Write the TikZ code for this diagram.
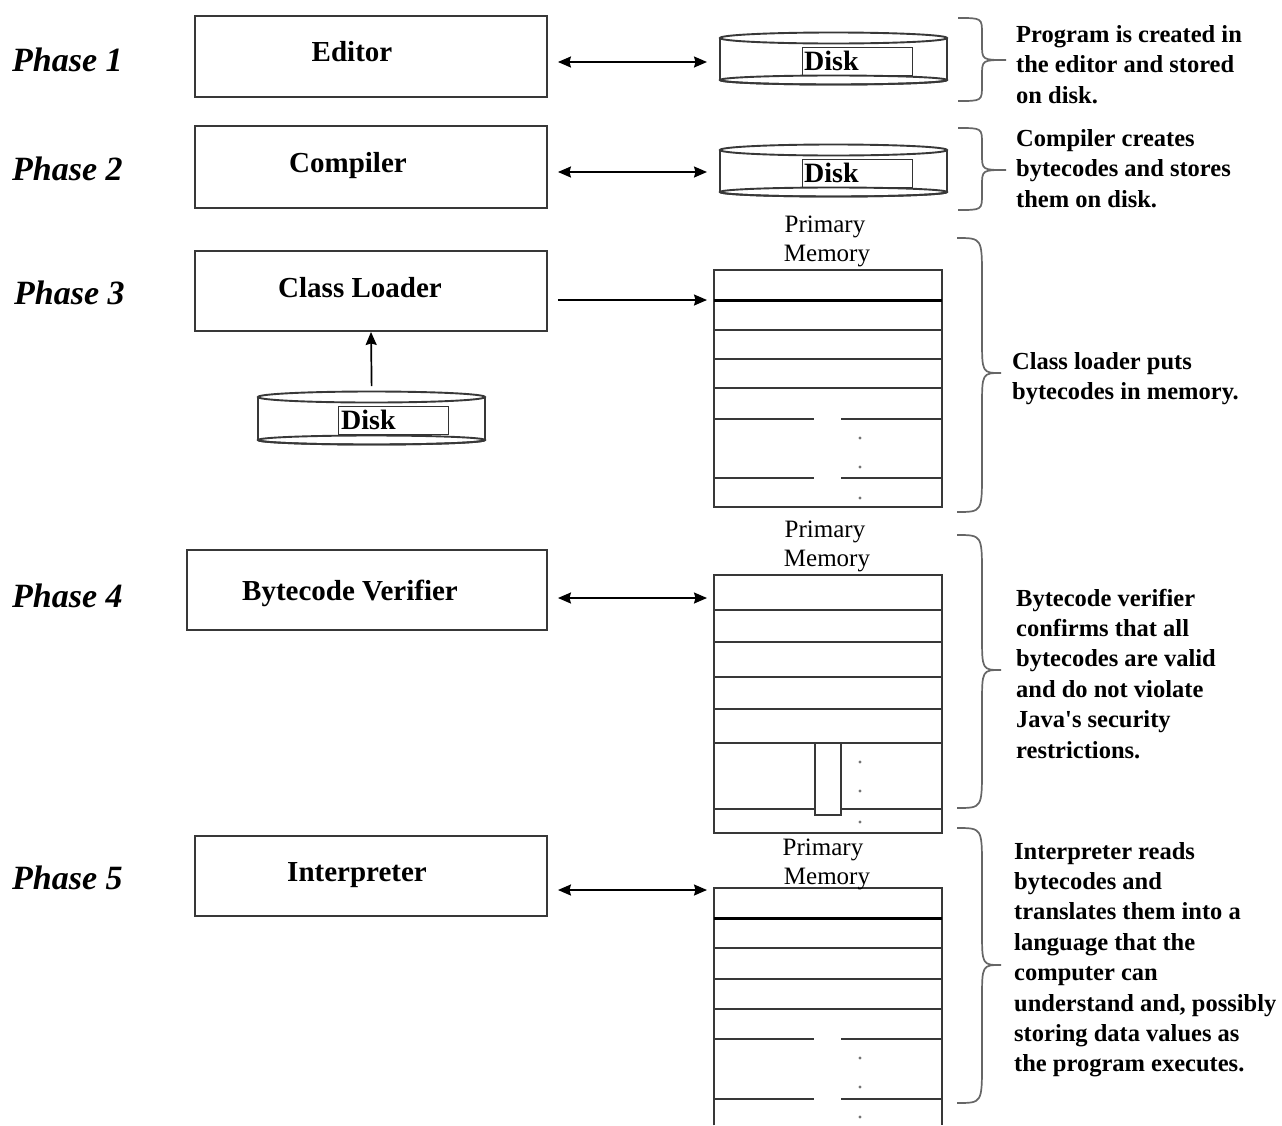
\documentclass[tikz,border=0pt]{standalone}
\usepackage{fontspec}
\setmainfont{Liberation Serif}
\usetikzlibrary{arrows.meta}
\tikzset{
  lnsty/.style={draw=black!78, line width=1.9pt},
  thicksty/.style={draw=black, line width=3pt},
  boxsty/.style={lnsty, inner sep=0pt},
  phsty/.style={font=\fontsize{34}{38}\selectfont\bfseries\itshape, anchor=base west, inner sep=0pt},
  lblsty/.style={font=\fontsize{29}{34}\selectfont\bfseries, anchor=base, inner sep=0pt},
  descsty/.style={font=\fontsize{24.5}{30}\selectfont\bfseries, anchor=base west, inner sep=0pt},
  pmsty/.style={font=\fontsize{25}{29}\selectfont, anchor=base, inner sep=0pt},
  disktxtsty/.style={font=\fontsize{28}{32}\selectfont\bfseries, anchor=base west, inner sep=0pt},
  dlboxsty/.style={draw=black!80, line width=1.4pt, anchor=north west, inner sep=0pt, minimum width=110pt, minimum height=28pt},
  diskareasty/.style={inner sep=0pt, anchor=north west, minimum width=227pt, minimum height=51pt},
  memsty/.style={inner sep=0pt, anchor=north west, minimum width=228pt},
  arrsty/.style={line width=1.7pt, draw=black, -{Stealth[length=13pt,width=11pt,inset=1.5pt]}},
  dblsty/.style={line width=1.7pt, draw=black, {Stealth[length=13pt,width=11pt,inset=1.5pt]}-{Stealth[length=13pt,width=11pt,inset=1.5pt]}},
  bracesty/.style={draw=black!60, line width=1.7pt},
  dotsty/.style={fill=black!55, circle, inner sep=0pt, minimum size=3.4pt},
}
% #1 x0, #2 xm, #3 xtip, #4 ytop, #5 ymid, #6 ybot, #7 r end, #8 r mid
\newcommand\curlyb[8]{%
  \draw[bracesty] (#1,#4) .. controls (#2,#4) .. (#2,#4+#7) -- (#2,#5-#8)
    .. controls (#2,#5) .. (#3,#5) .. controls (#2,#5) .. (#2,#5+#8)
    -- (#2,#6-#7) .. controls (#2,#6) .. (#1,#6);}
% disk cylinder: #1 xl, #2 xr, #3 yt, #4 yb
\newcommand\diskshape[4]{%
  \draw[lnsty, fill=white] (#1,#3) -- (#1,#4)
    arc[start angle=180, end angle=0, x radius={(#2-#1)/2}, y radius=4.5] -- (#2,#3);
  \draw[lnsty] ({(#1+#2)/2},#4) ellipse [x radius={(#2-#1)/2}, y radius=4.5];
  \draw[lnsty, fill=white] ({(#1+#2)/2},#3) ellipse [x radius={(#2-#1)/2}, y radius=5.5];}
\begin{document}
\begin{tikzpicture}[x=1pt,y=-1pt]
\useasboundingbox (0,0) rectangle (1282,1125);
\fill[white] (0,0) rectangle (1282,1125);

% phase labels
\node[phsty] (p1) at (12,71) {Phase 1};
\node[phsty] (p2) at (12,180) {Phase 2};
\node[phsty] (p3) at (14,304) {Phase 3};
\node[phsty] (p4) at (12,607) {Phase 4};
\node[phsty] (p5) at (12,889) {Phase 5};

% boxes
\node[boxsty, minimum width=352pt, minimum height=81pt] (editor) at (371,56.5) {};
\node[boxsty, minimum width=352pt, minimum height=82pt] (compiler) at (371,167) {};
\node[boxsty, minimum width=352pt, minimum height=80pt] (loader) at (371,291) {};
\node[boxsty, minimum width=360pt, minimum height=80pt] (verifier) at (367,590) {};
\node[boxsty, minimum width=352pt, minimum height=80pt] (interp) at (371,876) {};

\node[lblsty] (editorl) at (352,61) {Editor};
\node[lblsty] (compl) at (348,172) {Compiler};
\node[lblsty] (loadl) at (360,297) {Class Loader};
\node[lblsty] (verl) at (350,600) {Bytecode Verifier};
\node[lblsty] (intl) at (357,881) {Interpreter};

% disks
\diskshape{720}{947}{38}{80}
\node[diskareasty] (disk1) at (720,33) {};
\node[dlboxsty] (dlb1) at (802,47) {};
\node[disktxtsty] (dt1) at (804,70) {Disk};

\diskshape{720}{947}{150}{192}
\node[diskareasty] (disk2) at (720,145) {};
\node[dlboxsty] (dlb2) at (802,159) {};
\node[disktxtsty] (dt2) at (804,182) {Disk};

\diskshape{258}{485}{397}{440}
\node[diskareasty] (disk3) at (258,392) {};
\node[dlboxsty] (dlb3) at (338,406) {};
\node[disktxtsty] (dt3) at (341,429) {Disk};

% memory blocks
\node[memsty, minimum height=237pt] (mem3) at (714,270) {};
\draw[lnsty] (mem3.north west) rectangle (mem3.south east);
\draw[thicksty] (714,300) -- (942,300);
\foreach \yy in {330,359,388} \draw[lnsty] (714,\yy) -- (942,\yy);
\foreach \yy in {419,478} {\draw[lnsty] (714,\yy) -- (814,\yy); \draw[lnsty] (841,\yy) -- (942,\yy);}
\foreach \yy in {438,467,498} \node[dotsty] at (860,\yy) {};

\node[memsty, minimum height=258pt] (mem4) at (714,575) {};
\draw[lnsty] (mem4.north west) rectangle (mem4.south east);
\foreach \yy in {610,642,677,709,743} \draw[lnsty] (714,\yy) -- (942,\yy);
\draw[lnsty] (714,809) -- (815,809); \draw[lnsty] (841,809) -- (942,809);
\draw[lnsty] (815,743) rectangle (841,815);
\foreach \yy in {762,791,822} \node[dotsty] at (860,\yy) {};

\node[memsty, minimum height=237pt] (mem5) at (714,888) {};
\draw[lnsty] (mem5.south west) -- (mem5.north west) -- (mem5.north east) -- (mem5.south east);
\draw[thicksty] (714,918) -- (942,918);
\foreach \yy in {948,979,1009} \draw[lnsty] (714,\yy) -- (942,\yy);
\foreach \yy in {1039,1099} {\draw[lnsty] (714,\yy) -- (814,\yy); \draw[lnsty] (841,\yy) -- (942,\yy);}
\foreach \yy in {1058,1087,1117} \node[dotsty] at (860,\yy) {};

% primary memory labels
\node[pmsty] (pm3a) at (825,232) {Primary};
\node[pmsty] (pm3b) at (827,261) {Memory};
\node[pmsty] (pm4a) at (825,537) {Primary};
\node[pmsty] (pm4b) at (827,566) {Memory};
\node[pmsty] (pm5a) at (823,855) {Primary};
\node[pmsty] (pm5b) at (827,884) {Memory};

% arrows
\draw[dblsty, shorten <=10pt, shorten >=13pt] ([yshift=-5.5pt]editor.east) -- ([yshift=-5.5pt]editor.east -| disk1.west);
\draw[dblsty, shorten <=10pt, shorten >=13pt] ([yshift=-5pt]compiler.east) -- ([yshift=-5pt]compiler.east -| disk2.west);
\draw[arrsty, shorten <=10pt, shorten >=7pt] ([yshift=-9pt]loader.east) -- ([yshift=-9pt]loader.east -| mem3.west);
\draw[dblsty, shorten <=10pt, shorten >=7pt] ([yshift=-8pt]verifier.east) -- ([yshift=-8pt]verifier.east -| mem4.west);
\draw[dblsty, shorten <=10pt, shorten >=7pt] ([yshift=-14pt]interp.east) -- ([yshift=-14pt]interp.east -| mem5.west);
\draw[arrsty, shorten <=6pt] (disk3.north) -- (loader.south);

% braces
\curlyb{958}{982}{1006}{18}{60}{101}{16}{16}
\curlyb{958}{982}{1006}{128}{170}{210}{16}{16}
\curlyb{957}{982}{1001}{238}{373}{512}{40}{35}
\curlyb{957}{982}{1001}{535}{670}{808}{40}{35}
\curlyb{957}{982}{1001}{828}{965}{1103}{40}{35}

% descriptions
\foreach \t [count=\i from 0] in {Program is created in, the editor and stored, on disk.}
  \node[descsty] (d1-\i) at (1016,42+30.5*\i) {\t};
\foreach \t [count=\i from 0] in {Compiler creates, bytecodes and stores, them on disk.}
  \node[descsty] (d2-\i) at (1016,146+30.5*\i) {\t};
\foreach \t [count=\i from 0] in {Class loader puts, bytecodes in memory.}
  \node[descsty] (d3-\i) at (1012,369+30.5*\i) {\t};
\foreach \t [count=\i from 0] in {Bytecode verifier, confirms that all, bytecodes are valid, and do not violate, Java\textquotesingle s security, restrictions.}
  \node[descsty] (d4-\i) at (1016,606+30.4*\i) {\t};
\foreach \t [count=\i from 0] in {Interpreter reads, bytecodes and, translates them into a, language that the, computer can, {understand and, possibly}, storing data values as, the program executes.}
  \node[descsty] (d5-\i) at (1014,859+30.4*\i) {\t};
\end{tikzpicture}
\end{document}
